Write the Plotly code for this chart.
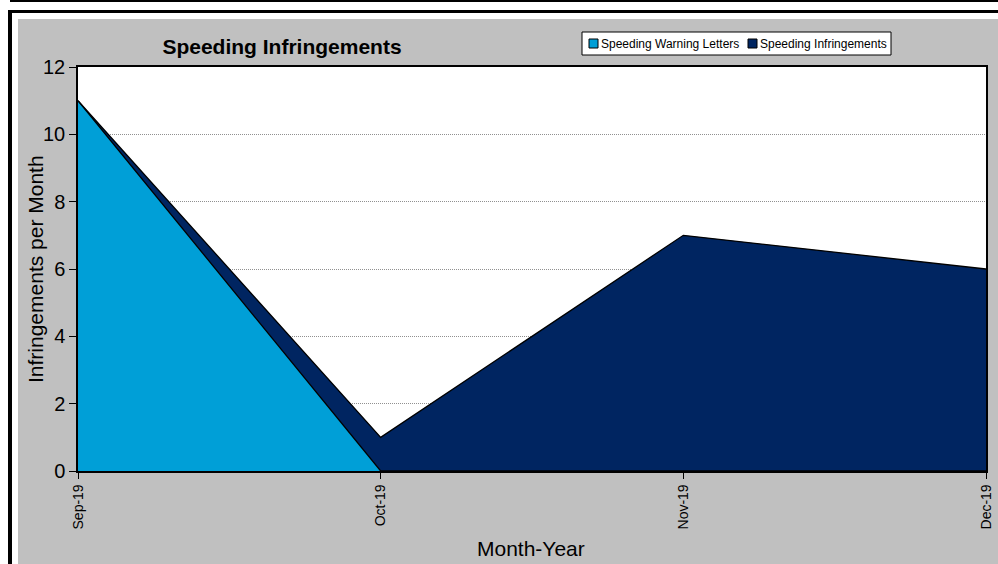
import plotly.graph_objects as go

months = ["Sep-19", "Oct-19", "Nov-19", "Dec-19"]
warning_letters = [11, 0, 0, 0]
infringements = [0, 1, 7, 6]
series_names = ["Speeding Warning Letters", "Speeding Infringements"]
series_colors = ["#009FD7", "#002561"]

W, H = 998, 564
L, R, T, B = 78, 986, 67, 471


def px(x):
    return (x - L) / (R - L)


def py(y):
    return (B - y) / (B - T)


fig = go.Figure()
for vals, name, col in zip([warning_letters, infringements], series_names, series_colors):
    fig.add_trace(go.Scatter(x=months, y=vals, name=name, stackgroup="one", mode="lines",
                             line=dict(color="black", width=1.3), fillcolor=col,
                             showlegend=False))

# white margins and black frame lines around the grey chart area
shapes = []
for x0, y0, x1, y1, c in [
    (0, 0, 18, H, "white"),
    (0, 0, W, 19, "white"),
    (10, 0, W, 2, "black"),
    (8, 10, W, 13, "black"),
    (8, 10, 12, H, "black"),
]:
    shapes.append(dict(type="rect", xref="paper", yref="paper",
                       x0=px(x0), x1=px(x1), y0=py(y1), y1=py(y0),
                       fillcolor=c, line=dict(width=0), layer="above"))

# legend box drawn by hand (square swatches like the original)
shapes.append(dict(type="rect", xref="paper", yref="paper",
                   x0=px(582), x1=px(891), y0=py(55), y1=py(32),
                   fillcolor="white", line=dict(color="black", width=1), layer="above"))
annotations = []
for sx, name, col in zip([589, 748], series_names, series_colors):
    shapes.append(dict(type="rect", xref="paper", yref="paper",
                       x0=px(sx), x1=px(sx + 9), y0=py(48), y1=py(39),
                       fillcolor=col, line=dict(color="black", width=1), layer="above"))
    annotations.append(dict(text=name, xref="paper", yref="paper", x=px(sx + 10), y=py(43.5),
                            xanchor="left", yanchor="middle", showarrow=False,
                            font=dict(size=12)))

annotations.append(dict(text="Infringements per Month", xref="paper", yref="paper",
                        x=px(35), y=py(269), textangle=-90, showarrow=False,
                        xanchor="center", yanchor="middle", font=dict(size=21)))
annotations.append(dict(text="Month-Year", xref="paper", yref="paper",
                        x=px(531), y=py(548), showarrow=False,
                        xanchor="center", yanchor="middle", font=dict(size=21)))

fig.update_layout(
    width=W, height=H,
    margin=dict(l=L, r=W - R, t=T, b=H - B),
    paper_bgcolor="#C0C0C0",
    plot_bgcolor="white",
    font=dict(family="Liberation Sans, Arial", color="black"),
    shapes=shapes,
    annotations=annotations,
    showlegend=False,
    title=dict(text="<b>Speeding Infringements</b>", font=dict(size=21),
               xref="container", yref="container",
               x=282 / W, y=1 - 47 / H, xanchor="center", yanchor="middle"),
    xaxis=dict(type="category", range=[0, 3], showgrid=False, automargin=False,
               showline=True, linecolor="black", linewidth=1.5, mirror=True,
               ticks="outside", ticklen=6, tickcolor="black",
               tickangle=-90, tickfont=dict(size=14)),
    yaxis=dict(range=[0, 12], dtick=2, showgrid=True, gridcolor="#909090",
               griddash="1px,1px", gridwidth=1, zeroline=False, automargin=False,
               showline=True, linecolor="black", linewidth=1.5, mirror=True,
               ticks="outside", ticklen=7, tickcolor="black",
               tickfont=dict(size=20)),
)

fig.write_html("out.html", config={"displayModeBar": False},
               post_script="document.body.style.margin='0';"
                           "document.body.style.overflow='hidden';")
